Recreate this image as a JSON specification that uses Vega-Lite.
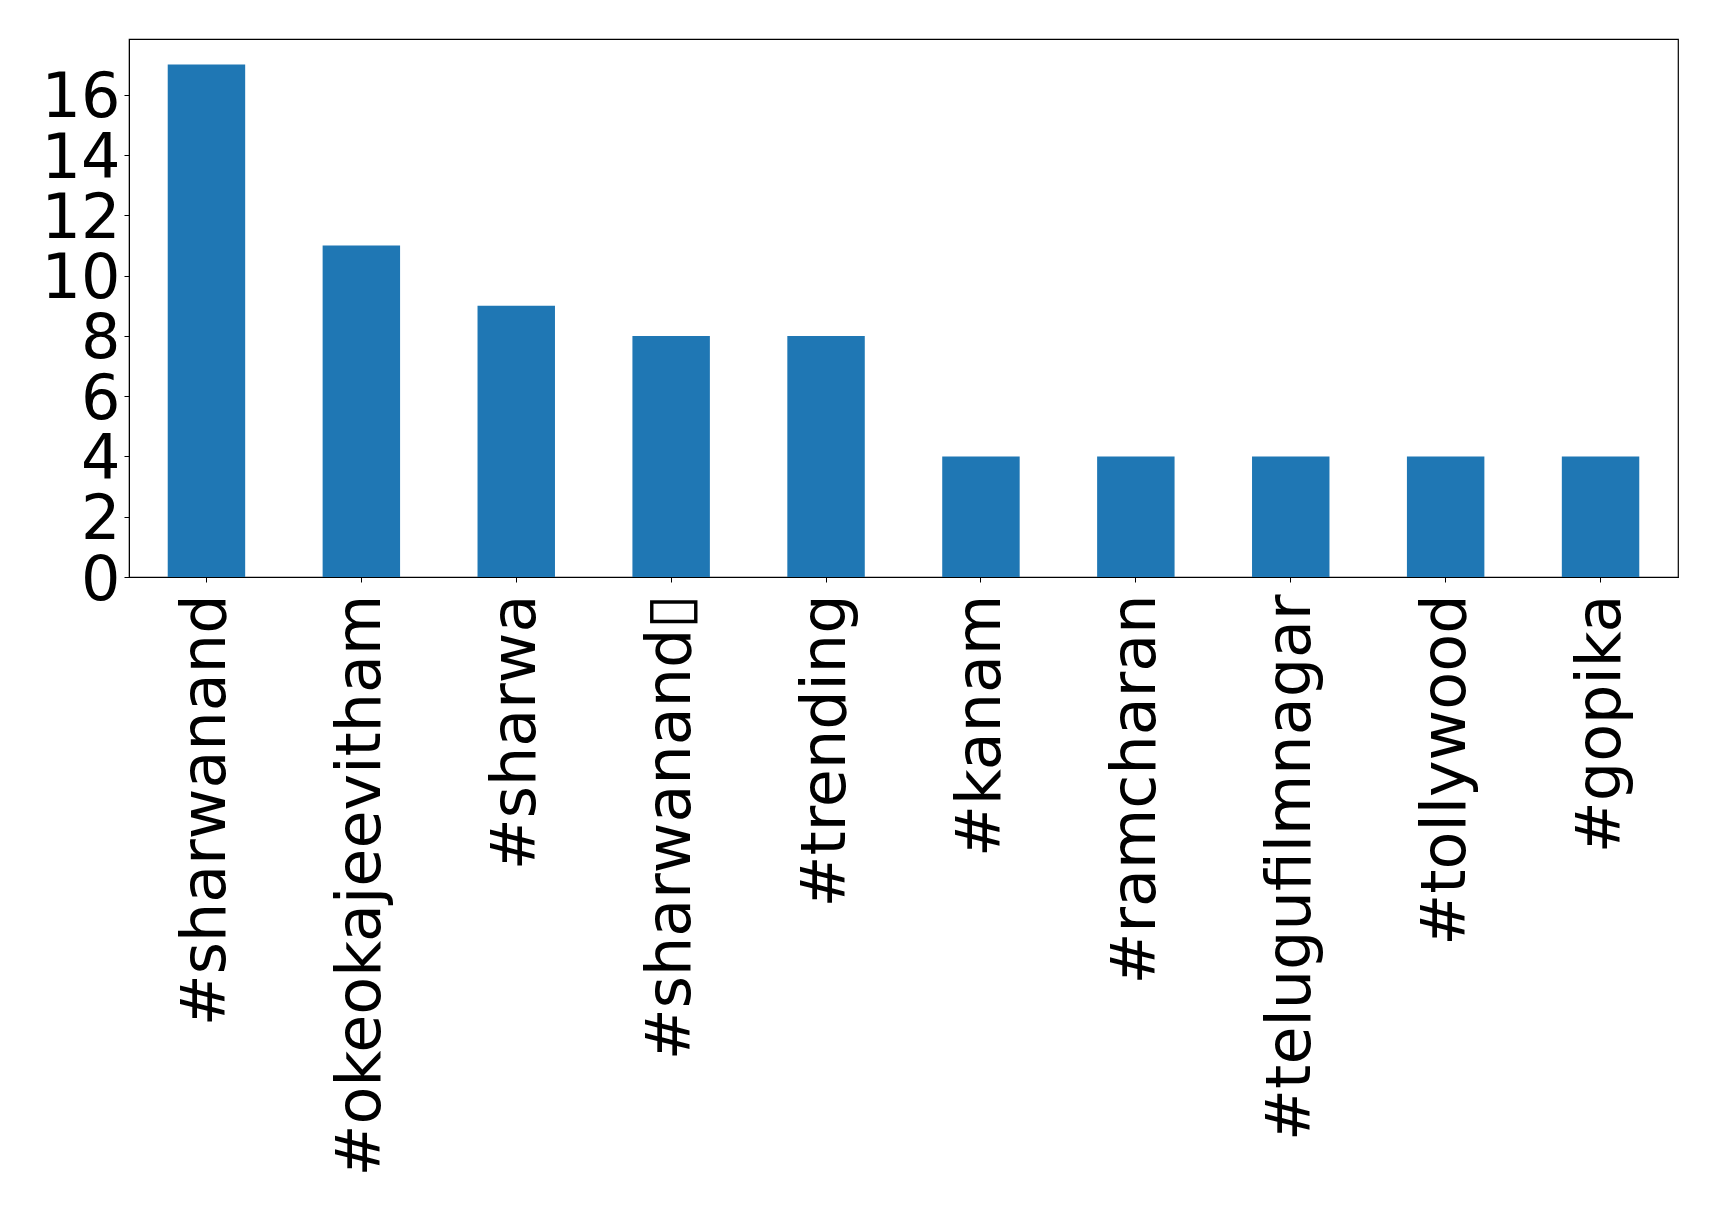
{
  "$schema": "https://vega.github.io/schema/vega-lite/v6.json",
  "width": 1549,
  "height": 538,
  "autosize": {"type": "none"},
  "padding": {"left": 129, "top": 39, "right": 41, "bottom": 637},
  "background": "white",
  "config": {
    "view": {"stroke": "black", "strokeWidth": 1.2},
    "font": "DejaVu Sans"
  },
  "data": {
    "values": [
      {"tag": "#sharwanand", "count": 17},
      {"tag": "#okeokajeevitham", "count": 11},
      {"tag": "#sharwa", "count": 9},
      {"tag": "#sharwanand▯", "count": 8},
      {"tag": "#trending", "count": 8},
      {"tag": "#kanam", "count": 4},
      {"tag": "#ramcharan", "count": 4},
      {"tag": "#telugufilmnagar", "count": 4},
      {"tag": "#tollywood", "count": 4},
      {"tag": "#gopika", "count": 4}
    ]
  },
  "mark": {"type": "bar", "color": "#1f77b4"},
  "encoding": {
    "x": {
      "field": "tag",
      "type": "nominal",
      "sort": null,
      "scale": {"paddingInner": 0.5, "paddingOuter": 0.25},
      "axis": {
        "title": null,
        "labelAngle": -90,
        "labelFontSize": 62,
        "labelFont": "DejaVu Sans",
        "labelColor": "black",
        "labelPadding": 12,
        "tickSize": 5,
        "tickColor": "black",
        "domainColor": "black",
        "labelLimit": 0,
        "grid": false
      }
    },
    "y": {
      "field": "count",
      "type": "quantitative",
      "scale": {"domain": [0, 17.85], "nice": false},
      "axis": {
        "title": null,
        "values": [0, 2, 4, 6, 8, 10, 12, 14, 16],
        "labelFontSize": 62,
        "labelFont": "DejaVu Sans",
        "labelColor": "black",
        "labelPadding": 4,
        "labelOffset": 3,
        "tickSize": 5,
        "tickColor": "black",
        "domainColor": "black",
        "grid": false,
        "labelFlush": false,
        "labelOverlap": false
      }
    }
  }
}
